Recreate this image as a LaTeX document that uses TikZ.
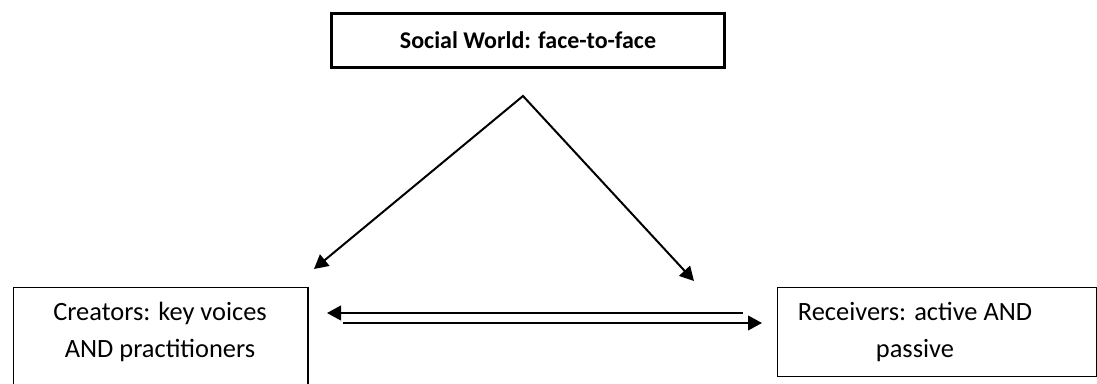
\documentclass[tikz,border=0pt]{standalone}
\usepackage{fontspec}
\setmainfont{Carlito}
\usetikzlibrary{arrows.meta,positioning}
\definecolor{socialInk}{HTML}{000000}
\tikzset{
  >={Triangle[length=10.5pt,width=11pt]},
  flow/.style={line width=1.5pt, draw=socialInk},
  world box/.style={draw=socialInk, line width=2.25pt, minimum width=294.5pt,
    minimum height=40.5pt, inner sep=0pt,
    font=\fontsize{18}{21}\selectfont\bfseries},
  actor box/.style={draw=socialInk, line width=1.1pt, inner sep=0pt},
  actor label/.style={align=center, inner sep=0pt,
    font=\fontsize{19.8}{27.75}\selectfont}
}

\begin{document}
\begin{tikzpicture}[x=0.75pt,y=-0.75pt]
  \useasboundingbox (0,0) rectangle (1097,383);
  \node[world box] (world) at (528,40.5) {Social World: face-to-face};

  \node[actor box, minimum width=221pt, minimum height=90pt,
    anchor=north west] (creators) at (12.5,286.5) {};
  \node[actor label] (creatorstext) at (160,331.5)
    {Creators: key voices\\AND practitioners};
  \node[actor box, minimum width=239.5pt, minimum height=67pt,
    anchor=north west] (receivers) at (776.5,286.5) {};
  \node[actor label] (receiverstext) at (915,331.5)
    {Receivers: active AND\\passive};

  \coordinate (apex) at (523,96);
  \coordinate (creatorsin) at (314,269);
  \coordinate (receiversin) at (694,281);
  \draw[flow, <->] (creatorsin) -- (apex) -- (receiversin);

  \coordinate (feedbackfrom) at (743,313);
  \coordinate (feedbackto) at (327,313);
  \coordinate (sendfrom) at (343,323);
  \coordinate (sendto) at (762,323);
  \draw[flow, ->] (feedbackfrom) -- (feedbackto);
  \draw[flow, ->] (sendfrom) -- (sendto);
\end{tikzpicture}
\end{document}
